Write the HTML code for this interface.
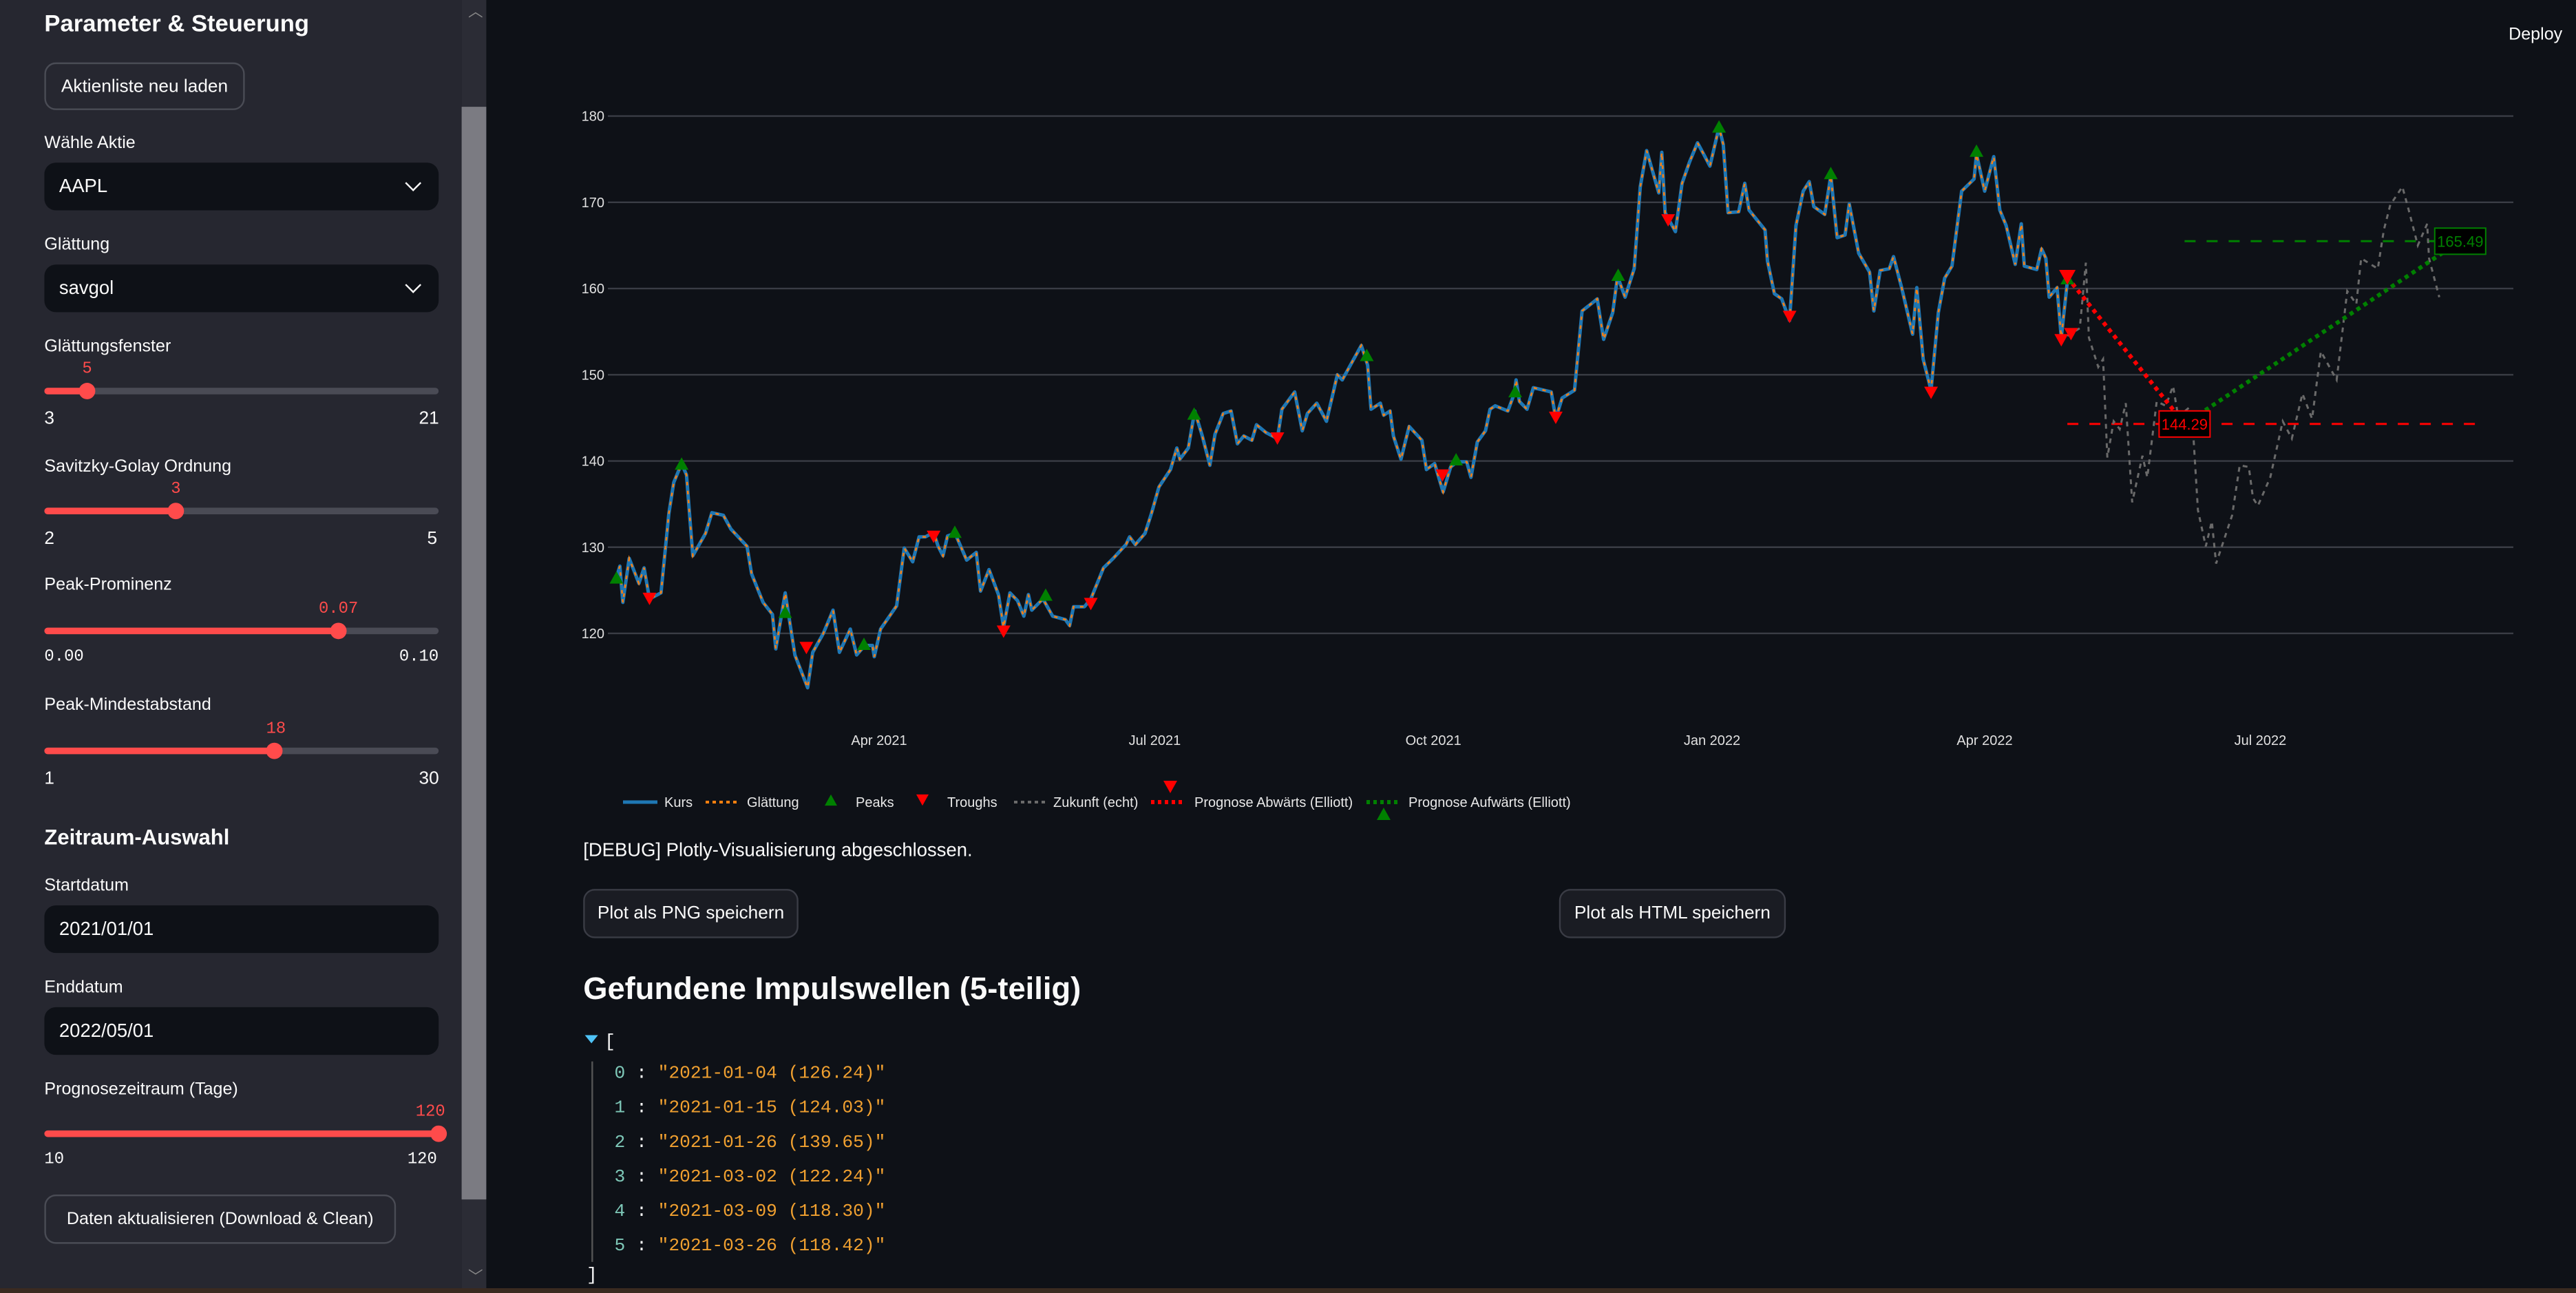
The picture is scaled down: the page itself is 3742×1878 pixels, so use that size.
<!DOCTYPE html>
<html><head><meta charset="utf-8">
<style>
html,body{margin:0;padding:0;background:#0e1117;width:3742px;height:1877px;overflow:hidden;font-family:"Liberation Sans",sans-serif;}
#ui{position:absolute;left:0;top:0;width:1568px;height:787px;transform:scale(2.38648);transform-origin:0 0;color:#fafafa;}
.a{position:absolute;white-space:nowrap;}
#side{left:0;top:0;width:281px;height:787px;background:#262730;}
.lbl{font-size:10.5px;color:#fafafa;}
.btn{border:1px solid #4a4c55;border-radius:7px;background:#262730;font-size:11px;color:#fafafa;display:flex;align-items:center;justify-content:center;}
.mbtn{border:1px solid #3a3c45;border-radius:7px;background:#1a1c23;font-size:11px;color:#fafafa;display:flex;align-items:center;justify-content:center;}
.inp{background:#0e1117;border-radius:7px;font-size:11.5px;color:#fafafa;display:flex;align-items:center;padding-left:9px;box-sizing:border-box;}
.trk{height:4px;background:#4a4b55;border-radius:2px;}
.fill{height:4px;background:#ff4b4b;border-radius:2px;}
.knob{width:10px;height:10px;border-radius:50%;background:#ff4b4b;}
.val{font-size:10px;color:#ff4b4b;font-family:"Liberation Mono",monospace;}
.mm{font-size:11px;color:#fafafa;}
.mono{font-family:"Liberation Mono",monospace;}
.chev{width:6px;height:6px;border-right:1.6px solid #fafafa;border-bottom:1.6px solid #fafafa;transform:rotate(45deg);}
.jrow{font-family:"Liberation Mono",monospace;font-size:11px;}
</style></head><body>
<div id="ui">
 <div class="a" id="side">
  <div class="a" style="left:27px;top:7px;font-size:14.5px;font-weight:bold">Parameter &amp; Steuerung</div>
  <div class="a btn" style="left:27px;top:38px;width:120px;height:27px">Aktienliste neu laden</div>
  <div class="a lbl" style="left:27px;top:81px">Wähle Aktie</div>
  <div class="a inp" style="left:27px;top:99px;width:240px;height:29px">AAPL<div class="a chev" style="right:12px;top:9px"></div></div>
  <div class="a lbl" style="left:27px;top:143px">Glättung</div>
  <div class="a inp" style="left:27px;top:161px;width:240px;height:29px">savgol<div class="a chev" style="right:12px;top:9px"></div></div>

  <div class="a lbl" style="left:27px;top:205px">Glättungsfenster</div>
  <div class="a val" style="left:50px;top:220px">5</div>
  <div class="a trk" style="left:27px;top:236px;width:240px"></div>
  <div class="a fill" style="left:27px;top:236px;width:27px"></div>
  <div class="a knob" style="left:48px;top:233px"></div>
  <div class="a mm" style="left:27px;top:249px">3</div>
  <div class="a mm" style="left:255px;top:249px">21</div>

  <div class="a lbl" style="left:27px;top:278px">Savitzky-Golay Ordnung</div>
  <div class="a val" style="left:104px;top:293px">3</div>
  <div class="a trk" style="left:27px;top:309px;width:240px"></div>
  <div class="a fill" style="left:27px;top:309px;width:80px"></div>
  <div class="a knob" style="left:102px;top:306px"></div>
  <div class="a mm" style="left:27px;top:322px">2</div>
  <div class="a mm" style="left:260px;top:322px">5</div>

  <div class="a lbl" style="left:27px;top:350px">Peak-Prominenz</div>
  <div class="a val" style="left:194px;top:366px">0.07</div>
  <div class="a trk" style="left:27px;top:382px;width:240px"></div>
  <div class="a fill" style="left:27px;top:382px;width:179px"></div>
  <div class="a knob" style="left:201px;top:379px"></div>
  <div class="a mm mono" style="left:27px;top:395px;font-size:10px">0.00</div>
  <div class="a mm mono" style="left:243px;top:395px;font-size:10px">0.10</div>

  <div class="a lbl" style="left:27px;top:423px">Peak-Mindestabstand</div>
  <div class="a val" style="left:162px;top:439px">18</div>
  <div class="a trk" style="left:27px;top:455px;width:240px"></div>
  <div class="a fill" style="left:27px;top:455px;width:140px"></div>
  <div class="a knob" style="left:162px;top:452px"></div>
  <div class="a mm" style="left:27px;top:468px">1</div>
  <div class="a mm" style="left:255px;top:468px">30</div>

  <div class="a" style="left:27px;top:502px;font-size:13px;font-weight:bold">Zeitraum-Auswahl</div>
  <div class="a lbl" style="left:27px;top:533px">Startdatum</div>
  <div class="a inp" style="left:27px;top:551px;width:240px;height:29px">2021/01/01</div>
  <div class="a lbl" style="left:27px;top:595px">Enddatum</div>
  <div class="a inp" style="left:27px;top:613px;width:240px;height:29px">2022/05/01</div>
  <div class="a lbl" style="left:27px;top:657px">Prognosezeitraum (Tage)</div>
  <div class="a val" style="left:253px;top:672px">120</div>
  <div class="a fill" style="left:27px;top:688px;width:240px"></div>
  <div class="a knob" style="left:262px;top:685px"></div>
  <div class="a mm mono" style="left:27px;top:701px;font-size:10px">10</div>
  <div class="a mm mono" style="left:248px;top:701px;font-size:10px">120</div>
  <div class="a btn" style="left:27px;top:727px;width:212px;height:28px;font-size:10.5px">Daten aktualisieren (Download &amp; Clean)</div>
 </div>
 <div class="a" style="left:281px;top:0;width:15px;height:787px;background:#2b2c35"></div>
 <div class="a" style="left:281px;top:65px;width:15px;height:665px;background:#7b7b82"></div>
 <div class="a" style="left:285px;top:0px;font-size:9px;color:#888">︿</div>
 <div class="a" style="left:285px;top:770px;font-size:9px;color:#888">﹀</div>
 <div class="a" style="left:1527px;top:15px;font-size:10.5px">Deploy</div>

 <div class="a" style="left:355px;top:512px;font-size:11.5px">[DEBUG] Plotly-Visualisierung abgeschlossen.</div>
 <div class="a mbtn" style="left:355px;top:541px;width:129px;height:28px">Plot als PNG speichern</div>
 <div class="a mbtn" style="left:949px;top:541px;width:136px;height:28px">Plot als HTML speichern</div>
 <div class="a" style="left:355px;top:592px;font-size:19px;font-weight:bold">Gefundene Impulswellen (5-teilig)</div>
 <div class="a" style="left:356px;top:630px;width:0;height:0;border-left:4px solid transparent;border-right:4px solid transparent;border-top:5px solid #4fc3f7"></div>
 <div class="a jrow" style="left:368px;top:629px;color:#fafafa">[</div>
 <div class="a" style="left:360px;top:646px;width:1px;height:122px;background:#555"></div>
 <div class="a jrow" style="left:374px;top:648px"><span style="color:#7ec8b8">0</span> : <span style="color:#f0a030">"2021-01-04 (126.24)"</span></div>
 <div class="a jrow" style="left:374px;top:669px"><span style="color:#7ec8b8">1</span> : <span style="color:#f0a030">"2021-01-15 (124.03)"</span></div>
 <div class="a jrow" style="left:374px;top:690px"><span style="color:#7ec8b8">2</span> : <span style="color:#f0a030">"2021-01-26 (139.65)"</span></div>
 <div class="a jrow" style="left:374px;top:711px"><span style="color:#7ec8b8">3</span> : <span style="color:#f0a030">"2021-03-02 (122.24)"</span></div>
 <div class="a jrow" style="left:374px;top:732px"><span style="color:#7ec8b8">4</span> : <span style="color:#f0a030">"2021-03-09 (118.30)"</span></div>
 <div class="a jrow" style="left:374px;top:753px"><span style="color:#7ec8b8">5</span> : <span style="color:#f0a030">"2021-03-26 (118.42)"</span></div>
 <div class="a jrow" style="left:357px;top:771px;color:#fafafa">]</div>
 <div class="a" style="left:0;top:784px;width:1568px;height:3px;background:#3a2a20"></div>
</div>

<svg id="chart" width="3742" height="1877" style="position:absolute;left:0;top:0" font-family="Liberation Sans, sans-serif"></svg>
<script>
const days=[3.3,4.4,5.4,7.5,10.7,12.4,14.2,18,20.6,22.2,24.8,26.4,28.5,32.7,34.8,38.6,41.1,46.4,47.9,51.7,54.8,55.9,59,62.2,66.4,68.1,71.6,74.8,76.9,80.5,82.6,85.3,87.8,88.4,90.5,95.8,98.3,101.1,103.2,105.3,108,109.5,111.1,112.6,115.1,118.9,122.1,123.5,126.3,129.4,131.1,133.2,135.7,137.8,139.3,140.4,144.1,147.3,151.5,152.9,154.2,157.8,159.9,164.1,167.3,171.5,172.7,174.6,177.8,179.9,182.4,186.2,188.3,189.3,192.1,194.2,196.7,199.2,200.9,203.6,206.2,208.3,210.4,213.1,214.6,217.7,221.5,223,227.2,229.7,231.4,234.5,237.7,241.3,242.9,249.2,251.3,252.4,255.5,256.6,258.7,259.8,262.3,265,269.2,270.7,273.4,276.2,278.7,280.8,284,285.4,287.5,290.2,291.7,293.4,297.6,299.7,300.3,301.4,303.9,306,311.9,313.4,315.5,319.6,322.1,326.1,327.1,329.2,332.2,333.8,336.3,339.3,341.3,343.4,347.4,348.4,349.5,352.9,355.1,357.6,360.2,362.2,364.3,367.3,368.7,370.3,373.8,375.8,377.2,382.5,383.3,385.6,388,390.6,392.7,395.1,397.1,398.6,402.2,404.2,406.3,408.9,410.3,413.4,417,418.4,420.5,423.5,424.9,427.6,431.2,432.6,434.7,437.3,439.7,441.8,444.2,447.4,451.5,452.3,455,458,460,462.1,465.1,467.1,468.1,472.2,473.8,475.2,476.3,478.9,480.3,482.3];
const close=[126.5,127.8,123.6,128.7,125.8,127.6,124,124.7,133.9,137.5,139.7,138.4,129,131.6,134,133.7,132.1,130.1,126.9,123.6,122.2,118.2,124.7,117.5,113.7,117.8,120,122.7,117.8,120.5,117.5,118.6,118.6,117.3,120.5,123.2,129.9,128.3,131.2,131.2,131.7,130.1,129,131.3,131.6,128.5,129.4,124.9,127.4,124.5,120.7,124.7,123.8,122,124.5,122.7,124,122,121.6,120.9,123.1,123.1,124,127.6,128.7,130.3,131.2,130.3,131.6,133.9,137,139,141.5,140.2,141.5,145.8,142.9,139.5,143.1,145.5,145.8,142,142.9,142.4,144.2,143.3,142.6,146,148,143.5,145.5,146.7,144.6,150,149.4,153.4,151.1,146,146.7,145.3,145.8,142.9,140.2,144,142.4,139,139.7,136.4,139.3,139.9,139.9,138.1,142.2,143.5,146,146.4,145.8,147.8,149.4,146.9,146,148.5,148,144.9,147.3,148.2,157.4,158.5,158.8,154.1,157.2,161.4,159,162.3,171.8,176,171.1,175.8,168.8,166.6,172.2,174.7,176.9,175.6,174.2,178.7,176.7,168.8,168.9,172.2,169.1,166.8,163.2,159.4,158.8,156.3,167.3,171.3,172.4,169.5,168.6,173.1,165.9,166.2,169.8,164.1,161.9,157.4,162.1,162.3,163.7,160.1,154.7,160.1,151.8,148.2,157.2,161.2,162.6,171.3,172.7,175.6,171.3,175.3,169.1,167.3,162.8,167.5,162.6,162.2,164.6,163.5,159,160.1,154.3,160.8];
const futDays=[482.3,486.4,488.4,489.4,492.5,494.1,495.5,497.6,499.6,501.6,503.7,507.1,508.7,511.8,514.8,517.2,518.9,522.5,523.9,525.4,528,530,531.4,536.7,539.2,542.2,543.6,545.2,549.3,553.4,556.4,559.9,563.1,566,571.2,574.7,577.7,579.3,584.8,586.8,588.9,592.9,595,598,601.1,601.7,605.1];
const futClose=[154.5,155.4,163,154.3,150.9,151.8,140.4,144.6,143.7,146.7,135.2,140.6,138.1,146.9,146.4,148.7,145.1,146.2,142.9,134.3,130.1,133,128.1,133.7,139.5,139.3,135.7,134.8,138.1,144.6,142.6,147.8,144.9,152.7,149.4,159.7,158.2,163.5,162.3,166.8,169.7,171.8,169.1,165,167.5,163.5,159];
const peakDays=[3.3,24.8,59,85,115,145,194,251,280.5,300,334,367.3,404.2,452.3,482.3];
const peakVals=[126.5,139.7,122.5,118.8,131.8,124.5,145.5,152.3,140.2,148.1,161.6,178.8,173.4,176,161.2];
const troughDays=[14.2,66,108,131.1,159.9,221.5,276,313.4,350.5,390.6,437.3,480.3,483.5];
const troughVals=[124,118.3,131.2,120.2,123.4,142.6,138.3,145,167.9,156.7,147.9,154,154.7];
const downDays=[482.3,521];
const downVals=[161.3,144.29];
const upDays=[521,612];
const upVals=[144.29,165.49];
const yTicks=[120,130,140,150,160,170,180];
const xTickDays=[90,181,273,365,455,546];
const xTickLabels=["Apr 2021","Jul 2021","Oct 2021","Jan 2022","Apr 2022","Jul 2022"];

const X=d=>881+d*4.40;
const Y=v=>168.6+(180-v)*12.523;
const NS="http://www.w3.org/2000/svg";
const svg=document.getElementById('chart');
function mk(tag,attrs,parent){const e=document.createElementNS(NS,tag);for(const k in attrs)e.setAttribute(k,attrs[k]);(parent||svg).appendChild(e);return e;}
function pts(ds,vs){return ds.map((d,i)=>X(d).toFixed(1)+','+Y(vs[i]).toFixed(1)).join(' ');}

yTicks.forEach(v=>{
  const g=mk('line',{x1:883,x2:3651,y1:Y(v),y2:Y(v),stroke:'#3a3d45','stroke-width':2.4});
  
  
  const t=mk('text',{x:878,y:Y(v)+7,'text-anchor':'end','font-size':20,fill:'#e0e0e0'});
  t.textContent=v;
  
  
});
xTickDays.forEach((d,i)=>{
  const t=mk('text',{x:X(d),y:1082,'text-anchor':'middle','font-size':20,fill:'#e0e0e0'});
  t.textContent=xTickLabels[i];
  
  
});
const hr=mk('line',{x1:X(downDays[0]),x2:X(620),y1:Y(downVals[1]),y2:Y(downVals[1]),stroke:'#ff0000','stroke-width':3,'stroke-dasharray':'16,16'});


const hg=mk('line',{x1:X(upDays[0]),x2:X(upDays[1]),y1:Y(upVals[1]),y2:Y(upVals[1]),stroke:'#008000','stroke-width':3,'stroke-dasharray':'16,16'});


const fl=mk('polyline',{points:pts(futDays,futClose),fill:'none',stroke:'#6a6a6a','stroke-width':3,'stroke-dasharray':'7,7'});


const pl=mk('polyline',{points:pts(days,close),fill:'none',stroke:'#1f77b4','stroke-width':5,'stroke-linejoin':'round'});


const sl=mk('polyline',{points:pts(days,close),fill:'none',stroke:'#ff7f0e','stroke-width':2.5,'stroke-dasharray':'5,8'});


const dl=mk('polyline',{points:pts(downDays,downVals),fill:'none',stroke:'#ff0000','stroke-width':6,'stroke-dasharray':'6,6'});


const ul=mk('polyline',{points:pts(upDays,upVals),fill:'none',stroke:'#008000','stroke-width':6,'stroke-dasharray':'6,6'});


function tri(x,y,s,up,col){return mk('polygon',{points:up?`${x-s},${y+s*0.9} ${x+s},${y+s*0.9} ${x},${y-s*0.9}`:`${x-s},${y-s*0.9} ${x+s},${y-s*0.9} ${x},${y+s*0.9}`,fill:col});}
peakDays.forEach((d,i)=>{
  const p=tri(X(d),Y(peakVals[i]),10,true,'#008000');
  
  
});
troughDays.forEach((d,i)=>{
  const p=tri(X(d),Y(troughVals[i]),10,false,'#ff0000');
  
  
});
const bigD=tri(X(downDays[0]),Y(downVals[0]),12,false,'#ff0000');


function box(d,v,txt,col,name){
  const g=mk('g',{});
  
  
  mk('rect',{x:X(d)-37,y:Y(v)-19,width:74,height:38,fill:'#000',stroke:col,'stroke-width':2},g);
  const t=mk('text',{x:X(d),y:Y(v)+8,'text-anchor':'middle','font-size':22,fill:col},g);t.textContent=txt;
}
box(downDays[1],downVals[1],downVals[1].toFixed(2),'#ff0000','forecast-down-label');
box(upDays[1],upVals[1],upVals[1].toFixed(2),'#008000','forecast-up-label');
const LY=1165;
function leg(x,name,txt){const t=mk('text',{x:x,y:LY+7,'font-size':20,fill:'#e8e8e8'});t.textContent=txt;}
let e;
e=mk('line',{x1:905,x2:955,y1:LY,y2:LY,stroke:'#1f77b4','stroke-width':5});
leg(965,'legend-kurs','Kurs');
e=mk('line',{x1:1025,x2:1075,y1:LY,y2:LY,stroke:'#ff7f0e','stroke-width':4,'stroke-dasharray':'5,5'});
leg(1085,'legend-glaettung','Glättung');
e=tri(1207,LY-3,9,true,'#008000');
leg(1243,'legend-peaks','Peaks');
e=tri(1340,LY-3,9,false,'#ff0000');
leg(1376,'legend-troughs','Troughs');
e=mk('line',{x1:1473,x2:1523,y1:LY,y2:LY,stroke:'#6a6a6a','stroke-width':4,'stroke-dasharray':'5,5'});
leg(1530,'legend-zukunft','Zukunft (echt)');
e=mk('line',{x1:1672,x2:1722,y1:LY,y2:LY,stroke:'#ff0000','stroke-width':6,'stroke-dasharray':'5,5'});
e=tri(1700,LY-22,10,false,'#ff0000');
leg(1735,'legend-prognose-abwaerts','Prognose Abwärts (Elliott)');
e=mk('line',{x1:1985,x2:2035,y1:LY,y2:LY,stroke:'#008000','stroke-width':6,'stroke-dasharray':'5,5'});
e=tri(2010,LY+17,10,true,'#008000');
leg(2046,'legend-prognose-aufwaerts','Prognose Aufwärts (Elliott)');
</script>
</body></html>
